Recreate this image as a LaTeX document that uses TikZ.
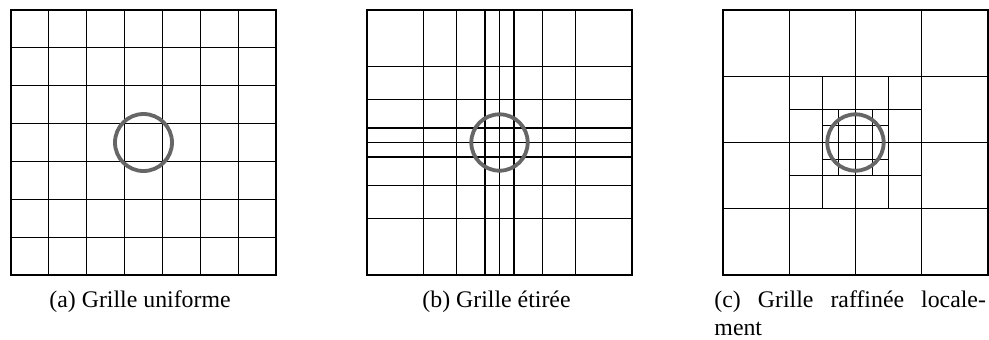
\documentclass[tikz,border=0pt]{standalone}
\usepackage{fontspec}
\setmainfont{Liberation Serif}
\definecolor{circgray}{RGB}{102,102,102}
\begin{document}
\begin{tikzpicture}[x=0.42pt,y=-0.42pt,
  gridline/.style={line width=0.45pt, draw=black},
  obstacle/.style={line width=1.6pt, draw=circgray},
  caption/.style={anchor=base west, inner sep=0pt, font=\fontsize{10}{12}\selectfont}]
\useasboundingbox (0,0) rectangle (989,339);
% (a) uniform grid
\begin{scope}[shift={(11,10)}]
  \draw[gridline] (0,0) rectangle (265,265);
  \foreach \i in {1,...,6} {
    \draw[gridline] ({\i*265/7},0) -- ({\i*265/7},265);
    \draw[gridline] (0,{\i*265/7}) -- (265,{\i*265/7});
  }
  \draw[obstacle] (132.5,132.5) circle[radius=28.5];
\end{scope}
% (b) stretched grid
\begin{scope}[shift={(367,10)}]
  \draw[gridline] (0,0) rectangle (265,265);
  \foreach \p in {56.5,89.5,118,132.5,147,175.5,208.5} {
    \draw[gridline] (\p,0) -- (\p,265);
    \draw[gridline] (0,\p) -- (265,\p);
  }
  \draw[obstacle] (132.5,132.5) circle[radius=28.2];
\end{scope}
% (c) locally refined grid
\begin{scope}[shift={(723,10)}]
  \draw[gridline] (0,0) rectangle (265,265);
  \foreach \p in {66.25,132.5,198.75} {
    \draw[gridline] (\p,0) -- (\p,265);
    \draw[gridline] (0,\p) -- (265,\p);
  }
  \foreach \p in {99.375,165.625} {
    \draw[gridline] (\p,66.25) -- (\p,198.75);
    \draw[gridline] (66.25,\p) -- (198.75,\p);
  }
  \foreach \p in {115.9375,149.0625} {
    \draw[gridline] (\p,99.375) -- (\p,165.625);
    \draw[gridline] (99.375,\p) -- (165.625,\p);
  }
  \draw[obstacle] (132.5,132.5) circle[radius=28.2];
\end{scope}
% captions
\node[caption] (capa) at (49,307) {(a) Grille uniforme};
\node[caption] (capb) at (422,307) {(b) Grille étirée};
\node[caption] (capc) at (714,307) {\hbox to 114pt{(c)\hfill Grille\hfill raffinée\hfill locale-}};
\node[caption] (capc2) at (714,335) {ment};
\end{tikzpicture}
\end{document}
